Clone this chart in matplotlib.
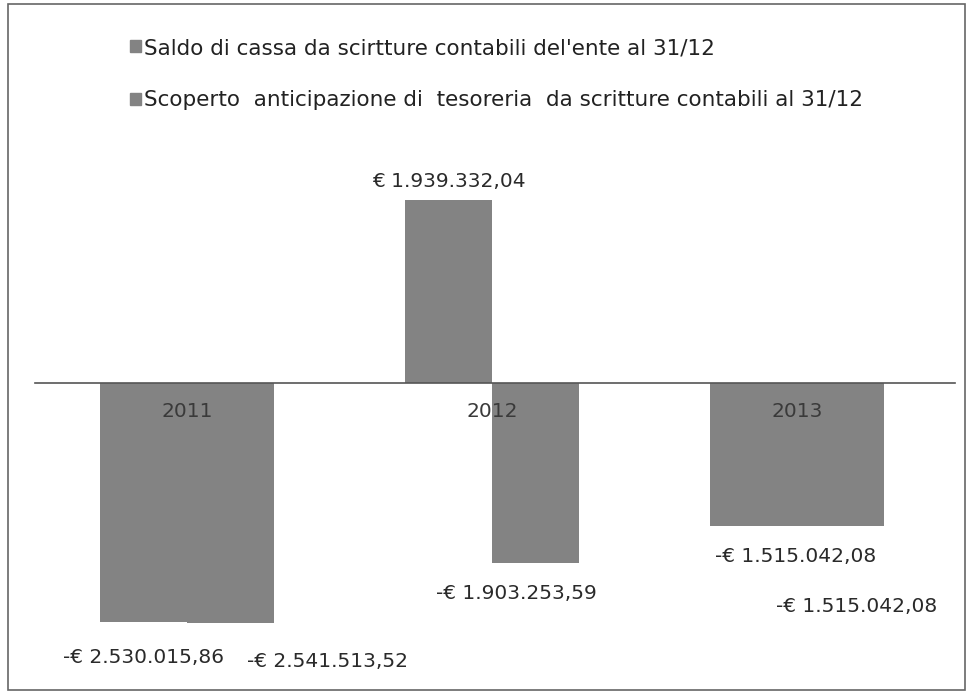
import matplotlib
matplotlib.use("Agg")
import matplotlib.pyplot as plt
import matplotlib.patches as mpatches
import numpy as np

years = ["2011", "2012", "2013"]
series_names = [
    "Saldo di cassa da scirtture contabili del'ente al 31/12",
    "Scoperto  anticipazione di  tesoreria  da scritture contabili al 31/12",
]
saldo = [-2530015.86, 1939332.04, -1515042.08]
scoperto = [-2541513.52, -1903253.59, -1515042.08]

# label offsets in points (style)
offs_saldo = [(0, -26), (0, 13), (30, -22)]
offs_scop = [(70, -28), (-14, -22), (12, -58)]

plt.rcParams['font.family'] = ['DejaVu Sans']

def fmt(v):
    s = f"{abs(v):,.2f}".replace(",", "X").replace(".", ",").replace("X", ".")
    return ("-€ " if v < 0 else "€ ") + s

fig = plt.figure(figsize=(9.68, 6.94), dpi=100)
ax = fig.add_axes([35/968, 4/694, 920/968, 540/694])
ax.set_xlim(-0.498, 2.518)
ax.set_ylim(-3.252e6, 2.468e6)

x = np.arange(len(years))
w = 0.285
color = "#838383"
b1 = ax.bar(x - w/2, saldo, w, color=color, zorder=1, label=series_names[0])
b2 = ax.bar(x + w/2, scoperto, w, color=color, zorder=1, label=series_names[1])

for bars, vals, offs in [(b1, saldo, offs_saldo), (b2, scoperto, offs_scop)]:
    for r, v, o in zip(bars, vals, offs):
        cx = r.get_x() + r.get_width()/2
        ax.annotate(fmt(v), (cx, v), xytext=o, textcoords="offset points",
                    ha="center", va="center", fontsize=14.5, color="#2a2a2a")

for s in ["top", "right", "left"]:
    ax.spines[s].set_visible(False)
ax.spines["bottom"].set_position(("data", 0))
ax.spines["bottom"].set_color("#555555")
ax.spines["bottom"].set_linewidth(1.2)
ax.spines["bottom"].set_zorder(3)
ax.set_yticks([])
ax.set_xticks(x, years)
ax.tick_params(axis="x", length=0, pad=14, labelsize=14.5, labelcolor="#3a3a3a")

handles = [mpatches.Patch(color=color), mpatches.Patch(color=color)]
fig.legend(handles, series_names, loc="upper left", bbox_to_anchor=(130/968, 1 - 38/694),
           frameon=False, fontsize=15.5, handlelength=0.5, handleheight=0.5,
           handletextpad=0.15, labelspacing=1.5, borderaxespad=0, borderpad=0,
           labelcolor="#222222")

fig.add_artist(mpatches.Rectangle((8/968, 4/694), 957/968, 686/694, transform=fig.transFigure,
                                  fill=False, edgecolor="#666666", linewidth=1.2))

fig.savefig("out.png", dpi=100)
